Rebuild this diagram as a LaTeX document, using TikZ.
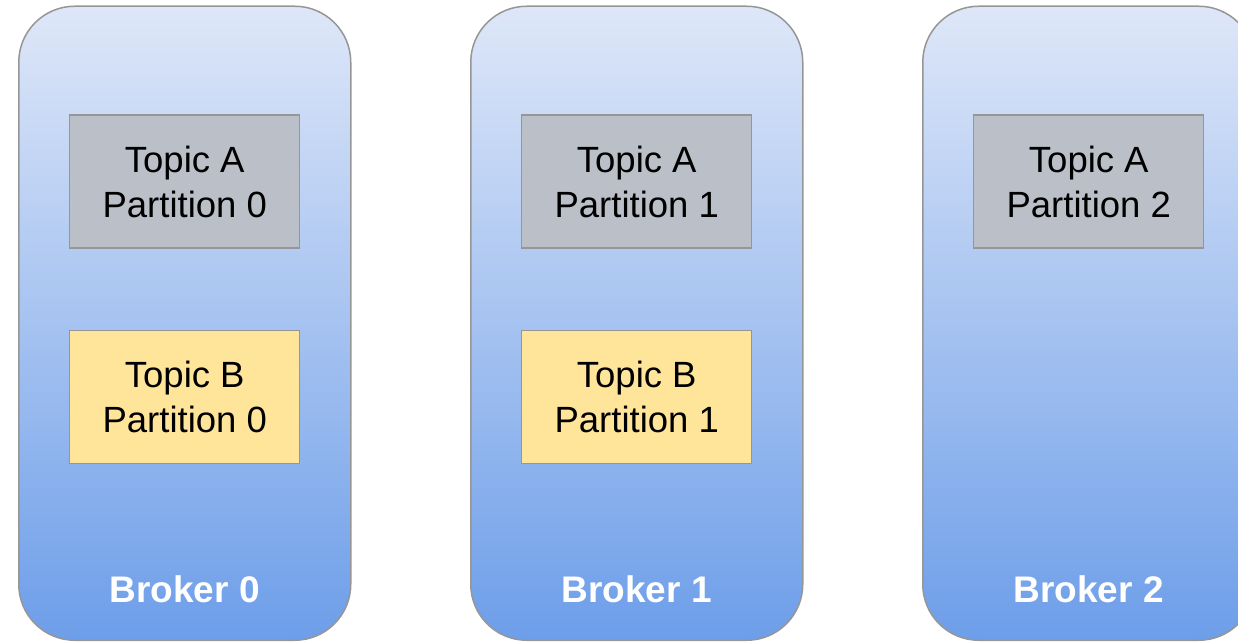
\documentclass[tikz,border=0pt]{standalone}
\usepackage{fontspec}
\setmainfont{Liberation Sans}
\usepackage{xcolor}
\usetikzlibrary{positioning}
\definecolor{brokertop}{RGB}{222,231,248}
\definecolor{brokerbot}{RGB}{109,158,233}
\definecolor{edgegray}{RGB}{150,150,150}
\definecolor{topicgray}{RGB}{187,191,199}
\definecolor{topicyellow}{RGB}{255,229,153}

\tikzset{
  broker/.style={draw=edgegray, line width=1.5pt, rounded corners=56pt,
    top color=brokertop, bottom color=brokerbot,
    minimum width=332pt, minimum height=634pt, inner sep=0pt, anchor=south west},
  partbox/.style={draw=edgegray, line width=1.2pt, minimum width=230pt,
    minimum height=133pt, inner sep=0pt, align=center,
    font=\fontsize{36.5}{45}\selectfont},
  topica/.style={partbox, fill=topicgray},
  topicb/.style={partbox, fill=topicyellow},
  brokerlabel/.style={text=white, anchor=base, font=\fontsize{37}{44}\selectfont\bfseries}
}

\begin{document}
\begin{tikzpicture}[x=1pt, y=1pt]
  \useasboundingbox (0,0) rectangle (1238,642);
  \clip (0,0) rectangle (1238,642);
  % one rounded broker per partition number
  \foreach \i/\bx in {0/18, 1/470, 2/922}{
    \node[broker] (broker\i) at (\bx,1) {};
    \node[topica, below=109pt of broker\i.north] (parta\i) {Topic A\\Partition \i};
    \node[brokerlabel] (label\i) at ([yshift=39pt]broker\i.south) {Broker \i};
  }
  % topic B only lives on the first two brokers
  \foreach \i in {0,1}{
    \node[topicb, below=81pt of parta\i] (partb\i) {Topic B\\Partition \i};
  }
\end{tikzpicture}
\end{document}
